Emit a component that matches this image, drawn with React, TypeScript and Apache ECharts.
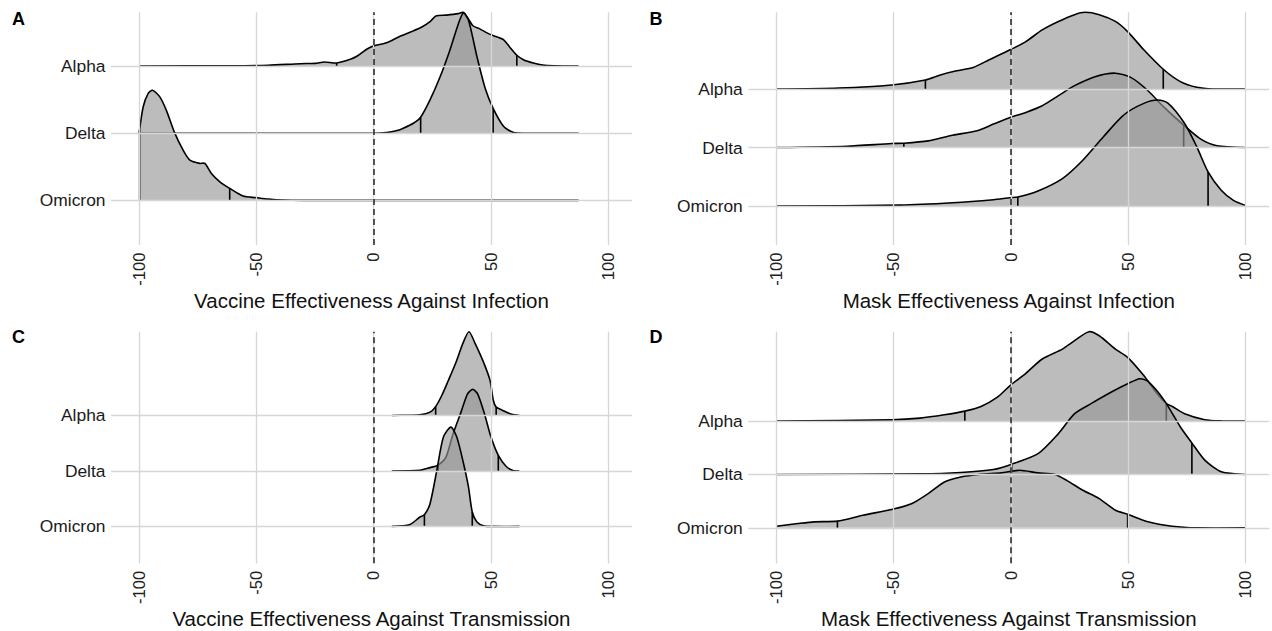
import React, { useEffect, useRef } from "react";
import * as echarts from "echarts";

// ---------- data ----------
const categories = ["Omicron", "Delta", "Alpha"]; // bottom -> top (y = 0, 1, 2)
const xTicks = [-100, -50, 0, 50, 100];
const panelLetters = ["A", "B", "C", "D"];
const axisTitles = [
  "Vaccine Effectiveness Against Infection",
  "Mask Effectiveness Against Infection",
  "Vaccine Effectiveness Against Transmission",
  "Mask Effectiveness Against Transmission",
];

// Panel A: vaccine vs infection
const aAlphaX = [-100, -60, -45, -31.4, -25, -21, -15.8, -10, -7, -3, 0, 5.5, 11, 16, 20.5, 24, 26.5, 31, 36, 38.2, 40, 42.3, 45.4, 48.5, 52, 55.4, 58, 61, 64, 68, 72, 77, 87.3];
const aAlphaY = [0, 0.004, 0.012, 0.035, 0.04, 0.06, 0.045, 0.1, 0.15, 0.25, 0.3, 0.345, 0.44, 0.51, 0.58, 0.66, 0.745, 0.758, 0.78, 0.8, 0.72, 0.6, 0.55, 0.49, 0.44, 0.39, 0.28, 0.16, 0.09, 0.045, 0.015, 0.004, 0];
const aAlphaQ = [-15.8, 61.0];
const aDeltaX = [-100, 0, 5.5, 10, 12.6, 16.9, 20, 24, 28.3, 32.5, 36.1, 38.2, 40.4, 44, 47.5, 50.9, 55.4, 59.6, 65, 87.3];
const aDeltaY = [0, 0, 0.01, 0.04, 0.074, 0.148, 0.238, 0.495, 0.84, 1.24, 1.63, 1.79, 1.68, 1.14, 0.67, 0.37, 0.1, 0.01, 0, 0];
const aDeltaQ = [20.0, 50.9];
const aOmicronX = [-100, -98.3, -96.2, -94.3, -91.2, -88.4, -84.8, -81.3, -78.4, -74.2, -72, -69.2, -65.6, -61.4, -55.7, -50, -45, -38.7, -30, 87.3];
const aOmicronY = [1.0, 1.39, 1.59, 1.64, 1.54, 1.34, 1.0, 0.75, 0.6, 0.55, 0.55, 0.4, 0.276, 0.178, 0.064, 0.04, 0.02, 0.005, 0, 0];
const aOmicronQ = [-99.8, -61.4];

// Panel B: mask vs infection
const bAlphaX = [-100, -73.5, -50.9, -36.5, -30.1, -23.2, -16.2, -9.3, -0.4, 6.3, 13.3, 20.2, 27.1, 31.5, 37.6, 44.5, 49.7, 56.6, 64.9, 72.2, 79.2, 86.1, 100];
const bAlphaY = [0, 0.017, 0.069, 0.154, 0.24, 0.31, 0.366, 0.5, 0.67, 0.81, 1.01, 1.154, 1.27, 1.31, 1.27, 1.154, 0.98, 0.67, 0.337, 0.126, 0.029, 0, 0];
const bAlphaQ = [-36.5, 64.9];
const bDeltaX = [-100, -70, -50.9, -45.7, -35.3, -24.9, -14.5, -7.5, -0.4, 6.3, 13.3, 20.2, 27.1, 35.8, 44.5, 51.4, 58.4, 65.3, 73.6, 80.9, 87.8, 100];
const bDeltaY = [0, 0.023, 0.069, 0.074, 0.114, 0.21, 0.286, 0.4, 0.514, 0.6, 0.714, 0.886, 1.057, 1.21, 1.27, 1.19, 0.97, 0.686, 0.383, 0.143, 0.029, 0];
const bDeltaQ = [-45.7, 73.6];
const bOmicronX = [-100, -47.4, -24.9, -7.5, -0.4, 2.9, 11.5, 21.9, 30.6, 39.3, 48, 56.6, 62.7, 67, 74, 79.2, 84, 89.6, 94.8, 100];
const bOmicronY = [0, 0.017, 0.057, 0.109, 0.143, 0.154, 0.257, 0.469, 0.783, 1.18, 1.554, 1.754, 1.811, 1.754, 1.41, 1.011, 0.583, 0.269, 0.097, 0.01];
const bOmicronQ = [2.9, 84.0];

// Panel C: vaccine vs transmission
const cAlphaX = [7.7, 15, 19.7, 24, 26.4, 29, 31.8, 35, 38, 40.6, 43.2, 46.7, 49.6, 51, 52.2, 54.6, 58.8, 62.1];
const cAlphaY = [0, 0.005, 0.01, 0.06, 0.16, 0.36, 0.63, 0.95, 1.3, 1.51, 1.3, 0.97, 0.63, 0.27, 0.15, 0.1, 0.02, 0];
const cAlphaQ = [26.4, 52.2];
const cDeltaX = [7.7, 19.7, 24, 27.2, 30.8, 33.6, 37.2, 40, 42.2, 44.3, 47.2, 50, 53.1, 56.4, 59.3, 62.1];
const cDeltaY = [0, 0.012, 0.06, 0.1, 0.25, 0.64, 1.06, 1.39, 1.47, 1.39, 1.03, 0.61, 0.28, 0.085, 0.01, 0];
const cDeltaQ = [27.5, 53.1];
const cOmicronX = [7.7, 15.5, 19.7, 21.6, 24, 26.9, 29.7, 32.9, 35.4, 38.3, 40.4, 42, 44, 46.9, 51.2, 62.1];
const cOmicronY = [0, 0.036, 0.17, 0.21, 0.41, 1.01, 1.61, 1.79, 1.61, 1.13, 0.71, 0.26, 0.08, 0.01, 0, 0];
const cOmicronQ = [21.6, 42.0];

// Panel D: mask vs transmission
const dAlphaX = [-100, -50.9, -38.8, -28.4, -19.7, -12.8, -5.8, -0.4, 6.3, 13.3, 21.9, 27.1, 33.2, 37.6, 44.5, 49.7, 56.6, 61.8, 66.2, 68.8, 74, 82.6, 90, 100];
const dAlphaY = [0, 0.025, 0.056, 0.118, 0.187, 0.274, 0.449, 0.667, 0.897, 1.165, 1.35, 1.508, 1.676, 1.6, 1.35, 1.196, 0.853, 0.542, 0.33, 0.274, 0.137, 0.025, 0.003, 0];
const dAlphaQ = [-19.7, 66.2];
const dDeltaX = [-100, -38.8, -21.4, -7.5, 0.3, 11.5, 20.2, 27.1, 34.1, 42.8, 49.7, 54.9, 58.4, 65.3, 72.2, 77.1, 82.6, 89.6, 100];
const dDeltaY = [0, 0.012, 0.037, 0.093, 0.193, 0.39, 0.766, 1.14, 1.327, 1.545, 1.7, 1.794, 1.744, 1.389, 0.89, 0.59, 0.268, 0.05, 0];
const dDeltaQ = [0.3, 77.1];
const dOmicronX = [-100, -90.8, -83.9, -74, -63.1, -50.9, -42.2, -35.3, -28.4, -21.4, -12.8, -4.1, 3.7, 11.5, 18.5, 23.7, 30.6, 37.6, 44.5, 49.7, 58.4, 68.7, 79.2, 100];
const dOmicronY = [0.03, 0.08, 0.112, 0.125, 0.237, 0.343, 0.455, 0.64, 0.86, 0.953, 1.003, 1.03, 1.078, 1.03, 1.003, 0.89, 0.704, 0.548, 0.33, 0.255, 0.112, 0.03, 0, 0];
const dOmicronQ = [-74.0, 49.7];

// ridges per panel, in category order (Omicron, Delta, Alpha)
const panelRidges = [
  [
    { x: aOmicronX, y: aOmicronY, q: aOmicronQ },
    { x: aDeltaX, y: aDeltaY, q: aDeltaQ },
    { x: aAlphaX, y: aAlphaY, q: aAlphaQ },
  ],
  [
    { x: bOmicronX, y: bOmicronY, q: bOmicronQ },
    { x: bDeltaX, y: bDeltaY, q: bDeltaQ },
    { x: bAlphaX, y: bAlphaY, q: bAlphaQ },
  ],
  [
    { x: cOmicronX, y: cOmicronY, q: cOmicronQ },
    { x: cDeltaX, y: cDeltaY, q: cDeltaQ },
    { x: cAlphaX, y: cAlphaY, q: cAlphaQ },
  ],
  [
    { x: dOmicronX, y: dOmicronY, q: dOmicronQ },
    { x: dDeltaX, y: dDeltaY, q: dDeltaQ },
    { x: dAlphaX, y: dAlphaY, q: dAlphaQ },
  ],
];

// ---------- layout / style ----------
const FONT = "'Liberation Sans', Arial, Helvetica, sans-serif";
const gridBoxes = [
  { left: 111, top: 12.3, width: 521, height: 232.7 },
  { left: 748.3, top: 12.3, width: 521, height: 232.7 },
  { left: 111, top: 331.7, width: 521, height: 231.6 },
  { left: 748.3, top: 331.7, width: 521, height: 231.6 },
];
const nameGaps = [43, 43, 41, 41];
const letterPos = [
  { left: 12, top: 9.5 },
  { left: 649.5, top: 9.5 },
  { left: 12, top: 328 },
  { left: 649.5, top: 328 },
];
const X_MIN = -112;
const X_MAX = 110.1;
const Y_MIN = -0.665;
const FILL = "rgba(150,150,150,0.64)";
const GRID_COLOR = "#D6D6D6";
const LINE_W = 1.6;

function interp(xs: number[], ys: number[], x: number) {
  if (x <= xs[0]) return ys[0];
  for (let i = 1; i < xs.length; i++) {
    if (x <= xs[i]) {
      const t = (x - xs[i - 1]) / (xs[i] - xs[i - 1]);
      return ys[i - 1] + t * (ys[i] - ys[i - 1]);
    }
  }
  return ys[ys.length - 1];
}

function buildOption() {
  const grid: any[] = [];
  const xAxis: any[] = [];
  const yAxis: any[] = [];
  const series: any[] = [];
  const title: any[] = [];

  panelRidges.forEach((ridges, p) => {
    const yMax = Math.max(...ridges.map((r, i) => i + Math.max(...r.y)));
    grid.push({ ...gridBoxes[p], containLabel: false });
    xAxis.push({
      type: "value",
      gridIndex: p,
      min: X_MIN,
      max: X_MAX,
      axisLine: { show: false },
      axisTick: { show: false },
      splitLine: { show: false },
      axisLabel: {
        customValues: xTicks,
        rotate: 90,
        margin: 7.5,
        fontSize: 16.6,
        color: "#222",
        fontFamily: FONT,
        formatter: (v: number) => String(v),
      },
      name: axisTitles[p],
      nameLocation: "middle",
      nameGap: nameGaps[p],
      nameTextStyle: { fontSize: 20.5, color: "#111", fontFamily: FONT },
    });
    yAxis.push({
      type: "value",
      gridIndex: p,
      min: Y_MIN,
      max: yMax,
      axisLine: { show: false },
      axisTick: { show: false },
      splitLine: { show: false },
      axisLabel: {
        customValues: [0, 1, 2],
        margin: 5.5,
        fontSize: 17.4,
        color: "#1a1a1a",
        fontFamily: FONT,
        formatter: (v: number) => categories[Math.round(v)] ?? "",
      },
    });
    title.push({
      text: panelLetters[p],
      left: letterPos[p].left,
      top: letterPos[p].top,
      padding: 0,
      textStyle: { fontSize: 18, fontWeight: "bold", color: "#000", fontFamily: FONT },
    });

    // grid lines
    series.push({
      type: "line",
      xAxisIndex: p,
      yAxisIndex: p,
      data: [],
      silent: true,
      z: 1,
      markLine: {
        silent: true,
        symbol: "none",
        animation: false,
        label: { show: false },
        emphasis: { disabled: true },
        lineStyle: { color: GRID_COLOR, width: 1.3, type: "solid" },
        data: [
          ...xTicks.map((v) => ({ xAxis: v })),
          ...categories.map((_, i) => ({ yAxis: i })),
        ],
      },
    });

    // ridges: top category first so lower ones overlay it
    for (let i = ridges.length - 1; i >= 0; i--) {
      const r = ridges[i];
      const base = i;
      series.push({
        type: "custom",
        name: `${panelLetters[p]}-${categories[i]}`,
        xAxisIndex: p,
        yAxisIndex: p,
        silent: true,
        z: 2 + (ridges.length - 1 - i),
        data: [[r.x[0], base]],
        renderItem: (params: any, api: any) => {
          const curve = r.x.map((x, k) => api.coord([x, base + r.y[k]]));
          const poly = [
            api.coord([r.x[0], base]),
            ...curve,
            api.coord([r.x[r.x.length - 1], base]),
          ];
          const qLines = r.q.map((qx) => {
            const a = api.coord([qx, base]);
            const b = api.coord([qx, base + interp(r.x, r.y, qx)]);
            return {
              type: "line",
              shape: { x1: a[0], y1: a[1], x2: b[0], y2: b[1] },
              style: { stroke: "#000", lineWidth: LINE_W },
            };
          });
          return {
            type: "group",
            children: [
              { type: "polygon", shape: { points: poly }, style: { fill: FILL, stroke: null } },
              ...qLines,
              {
                type: "polyline",
                shape: { points: curve, smooth: 0.25 },
                style: { stroke: "#000", lineWidth: LINE_W, fill: null },
              },
            ],
          };
        },
      });
    }

    // dashed zero line
    series.push({
      type: "line",
      xAxisIndex: p,
      yAxisIndex: p,
      data: [],
      silent: true,
      z: 10,
      markLine: {
        silent: true,
        symbol: "none",
        animation: false,
        label: { show: false },
        emphasis: { disabled: true },
        lineStyle: { color: "#222", width: 1.5, type: [6, 4] },
        data: [{ xAxis: 0 }],
      },
    });
  });

  return {
    animation: false,
    backgroundColor: "#fff",
    title,
    grid,
    xAxis,
    yAxis,
    series,
  };
}

export default function App() {
  const ref = useRef<HTMLDivElement>(null);
  useEffect(() => {
    if (!ref.current) return;
    const chart = echarts.init(ref.current, undefined, { renderer: "svg" });
    chart.setOption(buildOption() as any);
    return () => chart.dispose();
  }, []);
  return (
    <div
      ref={ref}
      style={{ position: "absolute", left: 0, top: 0, width: 1272, height: 631, background: "#fff" }}
    />
  );
}
